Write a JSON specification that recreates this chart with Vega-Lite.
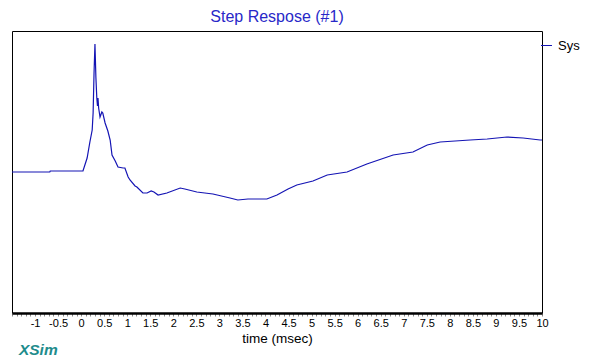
{
  "$schema": "https://vega.github.io/schema/vega-lite/v6.json",
  "autosize": {"type": "none"},
  "width": 530,
  "height": 282,
  "padding": {"left": 12, "top": 31, "right": 53, "bottom": 48},
  "background": "white",
  "config": {
    "font": "Liberation Sans",
    "view": {"stroke": "black", "strokeWidth": 1}
  },
  "title": {
    "text": "Step Respose (#1)",
    "color": "#2828c8",
    "fontSize": 16,
    "fontWeight": "normal",
    "font": "Liberation Sans",
    "anchor": "middle",
    "offset": 6
  },
  "datasets": {
    "resp": [
      {"t": -1.5, "v": 141, "s": "Sys"},
      {"t": -0.68, "v": 141, "s": "Sys"},
      {"t": -0.67, "v": 142, "s": "Sys"},
      {"t": 0.04, "v": 142, "s": "Sys"},
      {"t": 0.13, "v": 155, "s": "Sys"},
      {"t": 0.19, "v": 171, "s": "Sys"},
      {"t": 0.24, "v": 183, "s": "Sys"},
      {"t": 0.26, "v": 200, "s": "Sys"},
      {"t": 0.28, "v": 240, "s": "Sys"},
      {"t": 0.30, "v": 269, "s": "Sys"},
      {"t": 0.32, "v": 236, "s": "Sys"},
      {"t": 0.34, "v": 215, "s": "Sys"},
      {"t": 0.355, "v": 207, "s": "Sys"},
      {"t": 0.366, "v": 215, "s": "Sys"},
      {"t": 0.38, "v": 205, "s": "Sys"},
      {"t": 0.41, "v": 196, "s": "Sys"},
      {"t": 0.45, "v": 201, "s": "Sys"},
      {"t": 0.47, "v": 200, "s": "Sys"},
      {"t": 0.52, "v": 190, "s": "Sys"},
      {"t": 0.58, "v": 182, "s": "Sys"},
      {"t": 0.63, "v": 173, "s": "Sys"},
      {"t": 0.67, "v": 158, "s": "Sys"},
      {"t": 0.74, "v": 152, "s": "Sys"},
      {"t": 0.80, "v": 146, "s": "Sys"},
      {"t": 0.91, "v": 145, "s": "Sys"},
      {"t": 0.95, "v": 145, "s": "Sys"},
      {"t": 1.02, "v": 136, "s": "Sys"},
      {"t": 1.06, "v": 133, "s": "Sys"},
      {"t": 1.17, "v": 127, "s": "Sys"},
      {"t": 1.21, "v": 126, "s": "Sys"},
      {"t": 1.34, "v": 120, "s": "Sys"},
      {"t": 1.43, "v": 120, "s": "Sys"},
      {"t": 1.52, "v": 122, "s": "Sys"},
      {"t": 1.58, "v": 121, "s": "Sys"},
      {"t": 1.67, "v": 118, "s": "Sys"},
      {"t": 1.86, "v": 120, "s": "Sys"},
      {"t": 2.15, "v": 125, "s": "Sys"},
      {"t": 2.25, "v": 124, "s": "Sys"},
      {"t": 2.51, "v": 121, "s": "Sys"},
      {"t": 2.86, "v": 119, "s": "Sys"},
      {"t": 3.23, "v": 115, "s": "Sys"},
      {"t": 3.40, "v": 113, "s": "Sys"},
      {"t": 3.62, "v": 114, "s": "Sys"},
      {"t": 4.03, "v": 114, "s": "Sys"},
      {"t": 4.25, "v": 118, "s": "Sys"},
      {"t": 4.49, "v": 124, "s": "Sys"},
      {"t": 4.68, "v": 128, "s": "Sys"},
      {"t": 5.03, "v": 132, "s": "Sys"},
      {"t": 5.34, "v": 138, "s": "Sys"},
      {"t": 5.77, "v": 141, "s": "Sys"},
      {"t": 6.20, "v": 149, "s": "Sys"},
      {"t": 6.77, "v": 158, "s": "Sys"},
      {"t": 7.20, "v": 161, "s": "Sys"},
      {"t": 7.51, "v": 168, "s": "Sys"},
      {"t": 7.79, "v": 171, "s": "Sys"},
      {"t": 8.44, "v": 173, "s": "Sys"},
      {"t": 8.81, "v": 174, "s": "Sys"},
      {"t": 9.24, "v": 176, "s": "Sys"},
      {"t": 9.59, "v": 175, "s": "Sys"},
      {"t": 9.96, "v": 173, "s": "Sys"},
      {"t": 10.0, "v": 173, "s": "Sys"}
    ],
    "brand": [{"t": -1.35, "v": -37, "label": "XSim"}]
  },
  "layer": [
    {
      "data": {"name": "resp"},
      "mark": {"type": "line", "strokeWidth": 1.2, "interpolate": "linear"},
      "encoding": {
        "x": {
          "field": "t",
          "type": "quantitative",
          "scale": {"domain": [-1.5, 10], "nice": false, "zero": false},
          "axis": {
            "title": "time (msec)",
            "titleFontSize": 13.5,
            "titleFontWeight": "normal",
            "titleColor": "black",
            "titlePadding": 3,
            "tickCount": 115,
            "tickSize": 3,
            "tickColor": "#888888",
            "tickWidth": 1,
            "domainColor": "black",
            "domainWidth": 2.5,
            "grid": false,
            "labelFontSize": 11,
            "labelColor": "black",
            "labelPadding": 1,
            "labelOverlap": false,
            "labelFlush": false,
            "labelExpr": "(abs(datum.value*2 - round(datum.value*2)) < 0.001 && datum.value > -1.4) ? ('' + round(datum.value*10)/10) : ''"
          }
        },
        "y": {
          "field": "v",
          "type": "quantitative",
          "scale": {"domain": [0, 282], "nice": false, "zero": false},
          "axis": null
        },
        "color": {
          "field": "s",
          "type": "nominal",
          "scale": {"range": ["#1414b4"]},
          "legend": {
            "title": null,
            "orient": "none",
            "legendX": 528,
            "legendY": 8,
            "symbolType": "stroke",
            "symbolSize": 120,
            "symbolStrokeWidth": 1,
            "labelFontSize": 13,
            "labelColor": "black",
            "labelOffset": 5,
            "padding": 0
          }
        }
      }
    },
    {
      "data": {"name": "brand"},
      "mark": {
        "type": "text",
        "align": "left",
        "baseline": "middle",
        "fontSize": 15.5,
        "fontStyle": "italic",
        "fontWeight": "bold",
        "color": "#1e8c8c",
        "clip": false
      },
      "encoding": {
        "x": {"field": "t", "type": "quantitative"},
        "y": {"field": "v", "type": "quantitative"},
        "text": {"field": "label"}
      }
    }
  ]
}
